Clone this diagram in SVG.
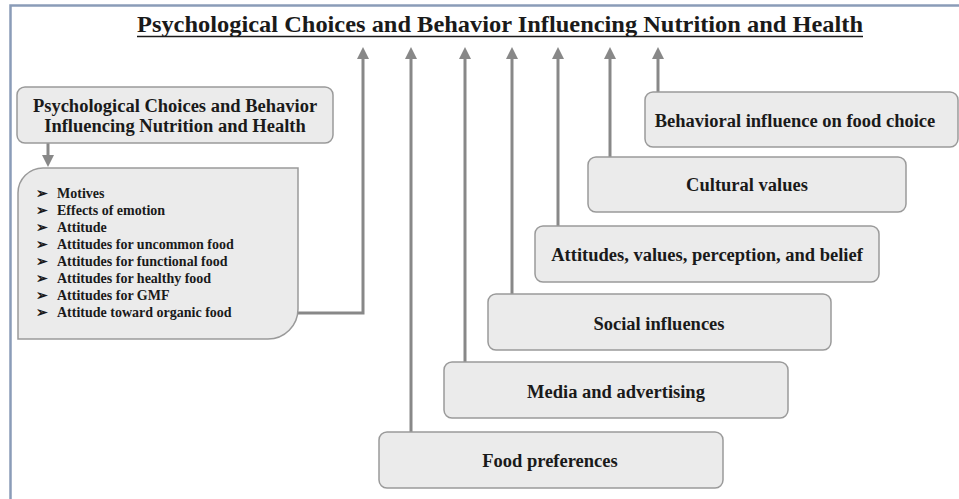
<svg xmlns="http://www.w3.org/2000/svg" width="959" height="499" viewBox="0 0 959 499">
<defs>
<marker id="ah" markerWidth="4" markerHeight="4" refX="2" refY="2" orient="auto" markerUnits="strokeWidth" viewBox="0 0 4 4">
<path d="M0,0 L4,2 L0,4 Z" fill="#888"/>
</marker>
<style>
.box{fill:#ebebeb;stroke:#9a9a9a;stroke-width:1.5}
.t{font-family:"Liberation Serif",serif;font-weight:bold;fill:#1a1a1a;font-size:18.5px;text-anchor:middle}
.li{font-family:"Liberation Serif",serif;font-weight:bold;fill:#1a1a1a;font-size:14px}
.c{fill:none;stroke:#888;stroke-width:3}
</style>
</defs>
<rect width="959" height="499" fill="#fff"/>
<path d="M10.5,499 V5.5 H959" fill="none" stroke="#8a9cb8" stroke-width="2.5"/>
<text x="137" y="32" font-family="Liberation Serif, serif" font-weight="bold" font-size="24" fill="#1a1a1a" textLength="726" lengthAdjust="spacingAndGlyphs">Psychological Choices and Behavior Influencing Nutrition and Health</text>
<line x1="137" y1="36.5" x2="863" y2="36.5" stroke="#1a1a1a" stroke-width="1.5"/>

<g id="connectors">
<path class="c" d="M298,313 H363 V53" marker-end="url(#ah)"/>
<path class="c" d="M411,432 V53" marker-end="url(#ah)"/>
<path class="c" d="M465,362 V53" marker-end="url(#ah)"/>
<path class="c" d="M512,294 V53" marker-end="url(#ah)"/>
<path class="c" d="M558,226 V53" marker-end="url(#ah)"/>
<path class="c" d="M610,157 V53" marker-end="url(#ah)"/>
<path class="c" d="M658,92 V53" marker-end="url(#ah)"/>
<path class="c" d="M48,143 V161" marker-end="url(#ah)"/>
</g>

<g id="main">
<rect class="box" x="17" y="87" width="316" height="56" rx="8"/>
<text class="t" x="175" y="112">Psychological Choices and Behavior</text>
<text class="t" x="175" y="132">Influencing Nutrition and Health</text>
</g>

<g id="list">
<path class="box" d="M43,168 H298 V309 A30,30 0 0 1 268,339 H18 V193 A25,25 0 0 1 43,168 Z"/>
<g class="li">
<text x="36" y="198">➢</text><text x="57" y="198">Motives</text>
<text x="36" y="215">➢</text><text x="57" y="215">Effects of emotion</text>
<text x="36" y="232">➢</text><text x="57" y="232">Attitude</text>
<text x="36" y="249">➢</text><text x="57" y="249">Attitudes for uncommon food</text>
<text x="36" y="266">➢</text><text x="57" y="266">Attitudes for functional food</text>
<text x="36" y="283">➢</text><text x="57" y="283">Attitudes for healthy food</text>
<text x="36" y="300">➢</text><text x="57" y="300">Attitudes for GMF</text>
<text x="36" y="317">➢</text><text x="57" y="317">Attitude toward organic food</text>
</g>
</g>

<g id="behavioral">
<rect class="box" x="645" y="92" width="313" height="55" rx="8"/>
<text class="t" x="795" y="127">Behavioral influence on food choice</text>
</g>
<g id="cultural">
<rect class="box" x="588" y="157" width="318" height="55" rx="8"/>
<text class="t" x="747" y="191">Cultural values</text>
</g>
<g id="attitudes">
<rect class="box" x="535" y="226" width="344" height="56" rx="8"/>
<text class="t" x="707" y="261">Attitudes, values, perception, and belief</text>
</g>
<g id="social">
<rect class="box" x="488" y="294" width="343" height="56" rx="8"/>
<text class="t" x="659" y="330">Social influences</text>
</g>
<g id="media">
<rect class="box" x="444" y="362" width="344" height="56" rx="8"/>
<text class="t" x="616" y="398">Media and advertising</text>
</g>
<g id="food">
<rect class="box" x="379" y="432" width="344" height="56" rx="8"/>
<text class="t" x="550" y="467">Food preferences</text>
</g>
</svg>
